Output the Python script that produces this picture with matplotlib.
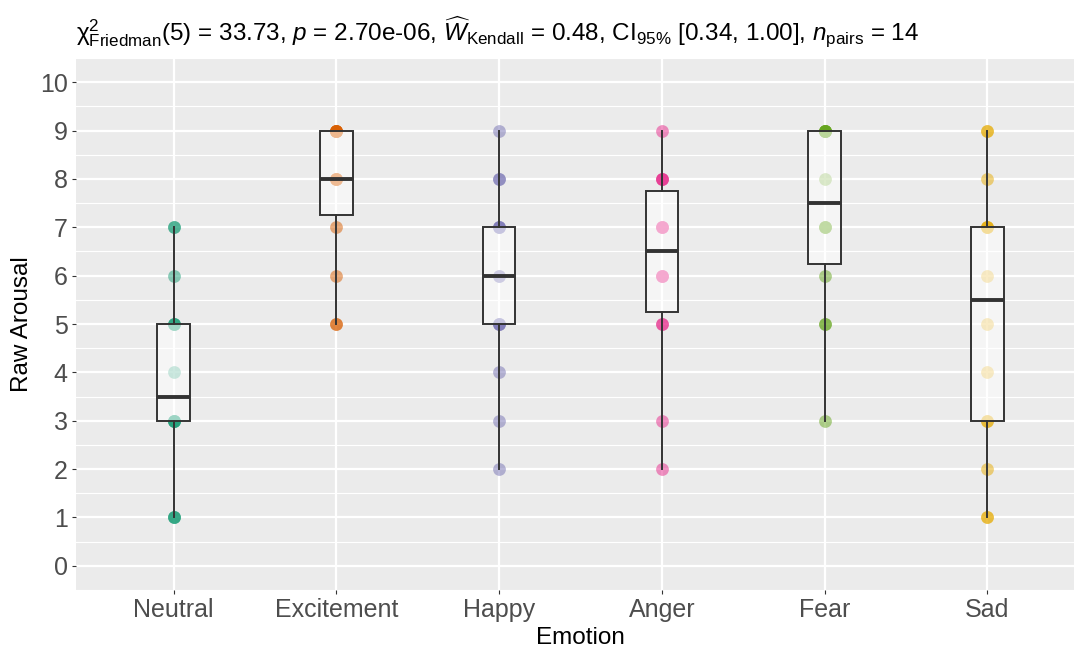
"""
Within-subject arousal ratings by emotion (box + points, ggplot-like theme).
"""

import matplotlib
matplotlib.use("Agg")
import matplotlib.pyplot as plt
import numpy as np

# data: raw arousal ratings, 14 participants per emotion
emotions = ["Neutral", "Excitement", "Happy", "Anger", "Fear", "Sad"]
neutral = [1, 1, 1, 3, 3, 3, 3, 4, 5, 5, 5, 6, 7, 7]
excitement = [5, 5, 6, 7, 8, 8, 8, 8, 9, 9, 9, 9, 9, 9]
happy = [2, 3, 4, 5, 5, 5, 6, 6, 7, 7, 7, 8, 8, 9]
anger = [2, 3, 5, 5, 6, 6, 6, 7, 7, 7, 8, 8, 8, 9]
fear = [3, 5, 5, 6, 7, 7, 7, 8, 9, 9, 9, 9, 9, 9]
sad = [1, 1, 2, 3, 3, 4, 5, 6, 7, 7, 7, 8, 9, 9]
y_ticks = list(range(0, 11))

title = (r"$\mathrm{\chi}^2_{\mathrm{Friedman}}(5)$ = 33.73, $\mathit{p}$ = 2.70e-06, "
         r"$\widehat{\mathit{W}}_{\mathrm{Kendall}}$ = 0.48, CI$_{95\%}$ [0.34, 1.00], "
         r"$\mathit{n}_{\mathrm{pairs}}$ = 14")

colors = ["#1B9E77", "#D95F02", "#7570B3", "#E7298A", "#66A61E", "#E6AB02"]

plt.rcParams["font.family"] = ["Liberation Sans", "DejaVu Sans"]
plt.rcParams["mathtext.fontset"] = "custom"
plt.rcParams["mathtext.rm"] = "Liberation Sans"
plt.rcParams["mathtext.it"] = "Liberation Sans:italic"
plt.rcParams["mathtext.bf"] = "Liberation Sans:bold"


def main() -> None:
    groups = [neutral, excitement, happy, anger, fear, sad]
    pos = np.arange(1, len(emotions) + 1)

    W, H = 1074, 652
    fig = plt.figure(figsize=(W / 100, H / 100), dpi=100)
    left, right, top, bottom = 76, 1085, 58, 590
    ax = fig.add_axes([left / W, (H - bottom) / H, (right - left) / W, (bottom - top) / H])

    ax.set_facecolor("#EBEBEB")
    for s in ax.spines.values():
        s.set_visible(False)

    # points first, box on top (like the ggplot layer order)
    for i, vals in enumerate(groups):
        ax.scatter(np.full(len(vals), pos[i]), vals, s=85, color=colors[i],
                   alpha=0.5, linewidths=0, zorder=2)

    bp = ax.boxplot(groups, positions=pos, widths=0.2, whis=(0, 100),
                    showcaps=False, showfliers=False, patch_artist=True,
                    zorder=3)
    for b in bp["boxes"]:
        b.set_facecolor((1, 1, 1, 0.55))
        b.set_edgecolor("#333333")
        b.set_linewidth(1.4)
    for w in bp["whiskers"]:
        w.set_color("#333333")
        w.set_linewidth(1.4)
    for m in bp["medians"]:
        m.set_color("#333333")
        m.set_linewidth(2.8)

    ax.set_xlim(0.4, 6.6)
    ax.set_ylim(-0.5, 10.5)
    ax.set_xticks(pos)
    ax.set_xticklabels(emotions)
    ax.set_yticks(y_ticks)
    ax.set_yticklabels([str(v) for v in y_ticks])
    ax.set_yticks(np.arange(-0.5, 10.6, 1.0), minor=True)
    ax.tick_params(axis="both", which="major", colors="#333333", labelcolor="#4D4D4D",
                   labelsize=18, length=3, width=0.8, pad=3)
    ax.tick_params(axis="y", which="minor", length=0)
    ax.tick_params(axis="x", which="minor", bottom=False)

    ax.grid(True, which="major", color="white", linewidth=1.6)
    ax.grid(True, which="minor", axis="y", color="white", linewidth=0.8)
    ax.set_axisbelow(True)

    ax.set_xlabel("Emotion", fontsize=17.5, color="black", labelpad=3)
    ax.set_ylabel("Raw Arousal", fontsize=17.5, color="black", labelpad=5)
    ax.set_title(title, loc="left", fontsize=17.5, pad=13)

    fig.savefig("out.png", dpi=100)
    plt.close(fig)


if __name__ == "__main__":
    main()
